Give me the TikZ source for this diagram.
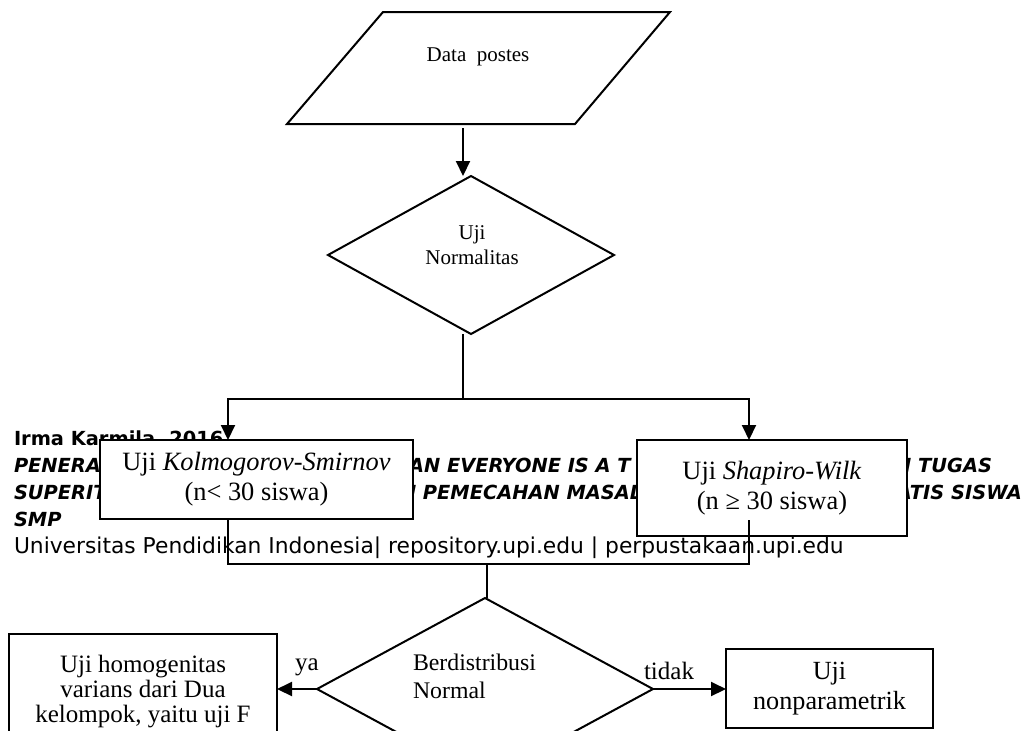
\documentclass[tikz,border=0pt]{standalone}
\usepackage{fontspec}
\setmainfont{Liberation Serif}
\newfontfamily\footfont{DejaVu Sans}
\usetikzlibrary{shapes.geometric,arrows.meta,calc,positioning}

\begin{document}
\begin{tikzpicture}[x=0.5pt, y=-0.5pt,
  line width=1pt,
  box/.style={draw, fill=white, line width=1pt, inner sep=2pt, outer sep=0pt, align=center},
  dec/.style={draw, fill=white, diamond, line width=1pt, inner sep=0pt, outer sep=0pt},
  txt/.style={inner sep=0pt, align=center},
  arr/.style={-{Triangle[length=7.5pt,width=7pt]}, line width=1pt},
  ln/.style={line width=1pt},
  foot/.style={anchor=base west, inner sep=0pt, font=\footfont\fontsize{9.7pt}{11pt}\selectfont\bfseries\itshape},
]
\useasboundingbox (0,0) rectangle (1028,730);
\clip (0,0) rectangle (1028,730);

% page footer behind the chart
\node[foot, font=\footfont\fontsize{9.7pt}{11pt}\selectfont\bfseries] (irma) at (13,445) {Irma Karmila, 2016};
\node[foot] (ttlA) at (13,472) {PENERAPAN};
\node[foot] (ttlB) at (408,472) {AN EVERYONE IS A T};
\node[foot, anchor=base east] (ttlC) at (993,472) {N TUGAS};
\node[foot] (ttlD) at (13,499) {SUPERITEM};
\node[foot] (ttlE) at (399,499) {N PEMECAHAN MASAL};
\node[foot, anchor=base east] (ttlF) at (1023,499) {ATIS SISWA};
\node[foot] (ttlG) at (13,526) {SMP};
\node[foot, font=\footfont\fontsize{10.9pt}{12pt}\selectfont] (univ) at (13,553)
  {Universitas Pendidikan Indonesia| repository.upi.edu | perpustakaan.upi.edu};

% input data
\draw[ln] (287,124) -- (383,12) -- (670,12) -- (575,124) -- cycle;
\node[txt, font=\fontsize{10.5pt}{12.5pt}\selectfont] (data) at (478,57) {Data\ \ postes};
\coordinate (dataout) at (463,128);

% normality test
\node[dec, minimum width=143pt, minimum height=79pt] (nor) at (471,255) {};
\node[txt, font=\fontsize{10.5pt}{12.5pt}\selectfont] (nortxt) at (472,245) {Uji\\Normalitas};

% the two tests
\node[box, minimum width=156.5pt, minimum height=39.5pt, font=\fontsize{13.2pt}{15pt}\selectfont] (ks) at (256.5,479.5)
  {Uji \textit{Kolmogorov-Smirnov}\\(n< 30 siswa)};
\node[box, minimum width=135pt, minimum height=48pt, font=\fontsize{13.2pt}{15pt}\selectfont] (sw) at (772,488)
  {Uji \textit{Shapiro-Wilk}\\(n ≥ 30 siswa)};

% normal distribution decision
\node[dec, minimum width=168pt, minimum height=91pt] (dist) at (485,689) {};
\node[txt, anchor=west, align=left, font=\fontsize{11.9pt}{14pt}\selectfont] (disttxt) at (412,676) {Berdistribusi\\Normal};

% outcomes
\node[box, minimum width=134pt, minimum height=58pt, font=\fontsize{12.5pt}{12.5pt}\selectfont] (hom) at (143,692)
  {Uji homogenitas\\varians dari Dua\\kelompok, yaitu uji F};
\node[box, minimum width=103.5pt, minimum height=39.5pt, font=\fontsize{13.1pt}{15pt}\selectfont] (np) at (829.5,688.5)
  {Uji\\nonparametrik};

% connectors
\coordinate (split) at (463,399);
\coordinate (merge) at (487,564);
\draw[arr] (dataout) -- (dataout |- nor.north);
\draw[ln] (split |- nor.south) -- (split);
\draw[arr] (split) -| ($(ks.north)+(-28.5,0)$);
\draw[arr] (split) -| ($(sw.north)+(-23,0)$);
\draw[ln] ($(ks.south)+(-28.5,0)$) |- (merge) -| ($(sw.south)+(-23,-16)$);
\draw[ln] (merge) -- (merge |- dist.north);
\draw[arr] (dist.west) -- (dist.west -| hom.east);
\draw[arr] (dist.east) -- (dist.east -| np.west);

% branch labels
\node[txt, font=\fontsize{12.5pt}{14pt}\selectfont] (ya) at (307,667) {ya};
\node[txt, font=\fontsize{12.5pt}{14pt}\selectfont] (tidak) at (669,671) {tidak};
\end{tikzpicture}
\end{document}
